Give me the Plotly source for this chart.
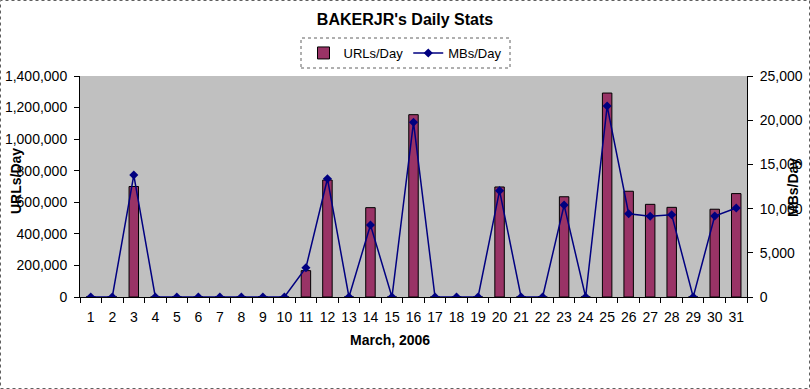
import plotly.graph_objects as go

days = [str(d) for d in range(1, 32)]
urls_per_day = [0, 0, 700000, 0, 0, 0, 0, 0, 0, 0,
                167000, 741000, 0, 566000, 0, 1155000, 0, 0, 0, 697000,
                0, 0, 635000, 0, 1292000, 670000, 587000, 568000, 0, 556000, 655000]
mbs_per_day = [0, 0, 13800, 0, 0, 0, 0, 0, 0, 0,
               3310, 13380, 0, 8150, 0, 19760, 0, 0, 0, 12030,
               0, 0, 10400, 0, 21600, 9420, 9130, 9310, 0, 9160, 10070]
left_ticks = [0, 200000, 400000, 600000, 800000, 1000000, 1200000, 1400000]
right_ticks = [0, 5000, 10000, 15000, 20000, 25000]

FONT = "Liberation Sans, Arial, sans-serif"
L, R, T, B = 80, 747, 76, 297
W, H = 810, 389

def px(x):
    return (x - L) / (R - L)

def py(y):
    return (B - y) / (B - T)

fig = go.Figure()
fig.add_trace(go.Bar(
    x=days, y=urls_per_day, name="URLs/Day",
    marker=dict(color="#993366", line=dict(color="black", width=1)),
    width=0.44, yaxis="y",
))
fig.add_trace(go.Scatter(
    x=days, y=mbs_per_day, name="MBs/Day", mode="lines+markers",
    line=dict(color="#000080", width=1.5),
    marker=dict(symbol="diamond", size=7, color="#000080"),
    yaxis="y2",
))

fig.update_layout(
    width=W, height=H,
    margin=dict(l=L, r=W - R, t=T, b=H - B, autoexpand=False),
    paper_bgcolor="white",
    plot_bgcolor="#C0C0C0",
    font=dict(family=FONT, size=14, color="black"),
    title=dict(text="<b>BAKERJR's Daily Stats</b>", x=405 / W, xanchor="center",
               y=1 - 19 / H, yanchor="middle", font=dict(size=16)),
    xaxis=dict(type="category", range=[-0.5, 30.5], tickson="boundaries", ticks="outside",
               ticklen=5, tickcolor="black", showline=True, linecolor="black",
               showgrid=False, tickangle=0, automargin=False, tickfont=dict(size=14),
               ticklabelstandoff=7),
    yaxis=dict(range=[0, 1400000], tickvals=left_ticks, tickformat=",d",
               ticks="outside", ticklen=5, tickcolor="black", showline=True,
               linecolor="black", showgrid=False, zeroline=False, automargin=False,
               ticklabelstandoff=4),
    yaxis2=dict(range=[0, 25000], tickvals=right_ticks, tickformat=",d",
                overlaying="y", side="right", ticks="outside", ticklen=5,
                tickcolor="black", showline=True, linecolor="black",
                showgrid=False, zeroline=False, automargin=False,
                ticklabelstandoff=4),
    bargap=0.56,
    legend=dict(orientation="h", x=px(405), xanchor="center", y=py(53), yanchor="middle",
                borderwidth=0, bgcolor="rgba(0,0,0,0)",
                font=dict(size=13)),
    shapes=[
        dict(type="rect", xref="paper", yref="paper",
             x0=px(0.5), x1=px(809.5), y0=py(388.5), y1=py(0.5),
             line=dict(color="#606060", width=1, dash="dot"), layer="below"),
        dict(type="rect", xref="paper", yref="paper",
             x0=px(301), x1=px(510), y0=py(68), y1=py(38),
             line=dict(color="#606060", width=1, dash="dot"), layer="below"),
    ],
    annotations=[
        dict(text="<b>March, 2006</b>", xref="paper", yref="paper", x=px(390), y=py(340),
             xanchor="center", yanchor="middle", showarrow=False, font=dict(size=14)),
        dict(text="<b>URLs/Day</b>", xref="paper", yref="paper", x=px(16), y=py(181),
             xanchor="center", yanchor="middle", showarrow=False, textangle=-90,
             font=dict(size=14)),
        dict(text="<b>MBs/Day</b>", xref="paper", yref="paper", x=px(793), y=py(188),
             xanchor="center", yanchor="middle", showarrow=False, textangle=-90,
             font=dict(size=14)),
    ],
)

fig.write_html("out.html", config={"displayModeBar": False},
               post_script="document.body.style.margin='0';")
